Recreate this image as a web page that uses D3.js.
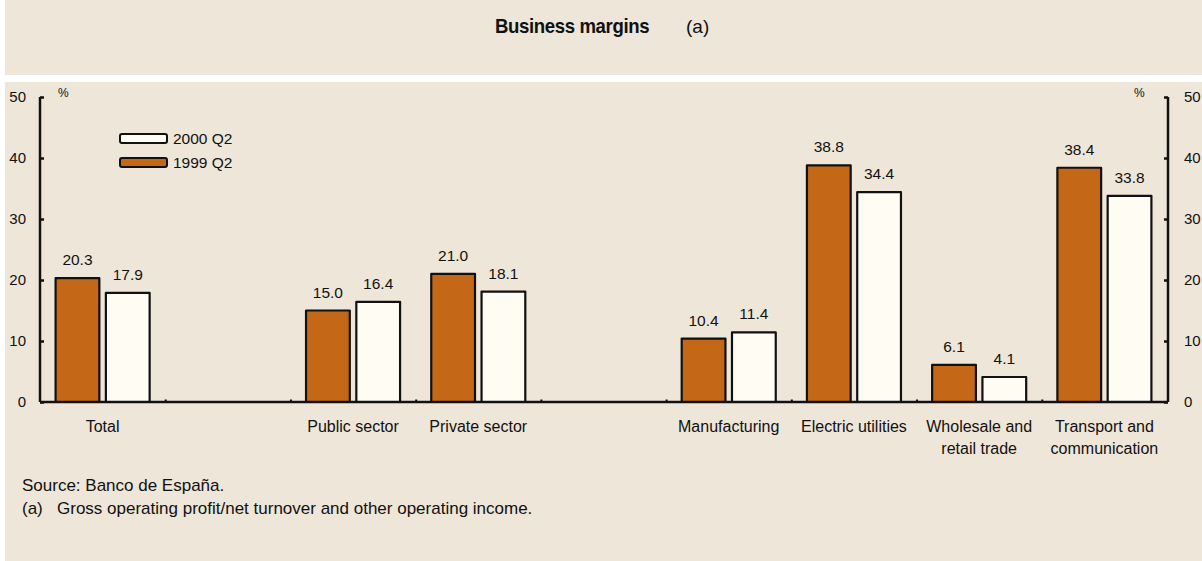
<!DOCTYPE html>
<html>
<head>
<meta charset="utf-8">
<script src="https://cdn.jsdelivr.net/npm/d3@7"></script>
<style>
  html, body { margin: 0; padding: 0; background: #ffffff; }
  svg { display: block; }
  text { font-family: "Liberation Sans", Arial, sans-serif; fill: #111; }
</style>
</head>
<body>
<svg id="chart" width="1202" height="561"></svg>
<script>
// Category slots along the x axis ("" marks an empty spacer slot)
const categories = ["Total", "", "Public sector", "Private sector", " ",
                    "Manufacturing", "Electric utilities", "Wholesale and retail trade",
                    "Transport and communication"];
// Two-line labels as printed under each slot
const categoryLabels = [["Total"], [], ["Public sector"], ["Private sector"], [],
                        ["Manufacturing"], ["Electric utilities"], ["Wholesale and", "retail trade"],
                        ["Transport and", "communication"]];
const series = ["1999 Q2", "2000 Q2"];
const values1999 = [20.3, null, 15.0, 21.0, null, 10.4, 38.8, 6.1, 38.4];
const values2000 = [17.9, null, 16.4, 18.1, null, 11.4, 34.4, 4.1, 33.8];
const yTicks = [0, 10, 20, 30, 40, 50];

const W = 1202, H = 561;
const bg = "#EEE6D8";
const orange = "#C46817";
const pale = "#FFFCF4";

const svg = d3.select("#chart");

// Panels
svg.append("rect").attr("x", 5).attr("y", 0).attr("width", W - 5).attr("height", 75).attr("fill", bg);
svg.append("rect").attr("x", 5).attr("y", 82).attr("width", W - 5).attr("height", H - 82).attr("fill", bg);

// Title: condensed bold heading plus the note marker
svg.append("text").attr("transform", "translate(495,33) scale(0.93,1)")
  .style("font-weight", "bold").style("font-size", "20px").style("letter-spacing", "-0.4px")
  .text("Business margins");
svg.append("text").attr("x", 686).attr("y", 33).style("font-size", "19px").text("(a)");

// Scales
const x = d3.scaleBand().domain(categories).range([40, 1167]).paddingInner(0).paddingOuter(0);
const xs = d3.scaleBand().domain(series).range([0, x.bandwidth()]).paddingInner(0.13).paddingOuter(0.31);
const y = d3.scaleLinear().domain([0, 50]).range([402, 97]);

const fmt = d3.format(".1f");
const rows = categories.map((c, i) => ({ c, i, v: { "1999 Q2": values1999[i], "2000 Q2": values2000[i] } }));

// Bars
const groups = svg.append("g").selectAll("g").data(rows.filter(r => r.v["1999 Q2"] != null))
  .join("g").attr("transform", d => `translate(${x(d.c)},0)`);

groups.selectAll("rect").data(d => series.map(s => ({ s, v: d.v[s] })))
  .join("rect")
  .attr("x", d => xs(d.s))
  .attr("y", d => y(d.v))
  .attr("width", xs.bandwidth())
  .attr("height", d => y(0) - y(d.v))
  .attr("fill", d => d.s === "1999 Q2" ? orange : pale)
  .attr("stroke", "#111").attr("stroke-width", 2.2).attr("stroke-linejoin", "round");

groups.selectAll("text.val").data(d => series.map(s => ({ s, v: d.v[s] })))
  .join("text").attr("class", "val")
  .attr("x", d => xs(d.s) + xs.bandwidth() / 2)
  .attr("y", d => y(d.v) - 13)
  .attr("text-anchor", "middle").style("font-size", "15.5px")
  .text(d => fmt(d.v));

// Y axes (ticks pointing inward)
const yLeft = d3.axisLeft(y).tickValues(yTicks).tickSize(-4).tickPadding(14).tickFormat(d3.format("d"));
const yRight = d3.axisRight(y).tickValues(yTicks).tickSize(-4).tickPadding(16).tickFormat(d3.format("d"));

function styleAxis(g) {
  g.select(".domain").attr("stroke", "#111").attr("stroke-width", 2.5);
  g.selectAll(".tick line").attr("stroke", "#111").attr("stroke-width", 2.5);
  g.selectAll(".tick text").style("font-size", "15px").attr("fill", "#111")
    .style("font-family", "'Liberation Sans', Arial, sans-serif");
}
svg.append("g").attr("transform", "translate(40,0)").call(yLeft).call(g => g.select(".domain").attr("d", "M0,97V402")).call(styleAxis);
svg.append("g").attr("transform", "translate(1168,0)").call(yRight).call(g => g.select(".domain").attr("d", "M0,97V402")).call(styleAxis);

// X axis baseline with small marks at slot boundaries
const boundaries = categories.slice(1).map(c => x(c));
const xAxis = d3.axisBottom(d3.scaleLinear().domain([40, 1167]).range([40, 1167]))
  .tickValues(boundaries).tickSize(-2.5).tickFormat("");
svg.append("g").attr("transform", `translate(0,${y(0)})`).call(xAxis)
  .call(g => g.select(".domain").attr("d", "M40,0H1168").attr("stroke", "#111").attr("stroke-width", 2.5))
  .call(g => g.selectAll(".tick line").attr("stroke", "#111").attr("stroke-width", 2));

// Category labels
const lab = svg.append("g").selectAll("text").data(categoryLabels.map((l, i) => ({ l, c: categories[i] })))
  .join("text")
  .attr("text-anchor", "middle")
  .style("font-size", "16px");
lab.selectAll("tspan").data(d => d.l.map((t, k) => ({ t, k, c: d.c })))
  .join("tspan")
  .attr("x", d => x(d.c) + x.bandwidth() / 2)
  .attr("y", d => 432 + d.k * 22)
  .text(d => d.t);

// Percent units
svg.append("text").attr("x", 58).attr("y", 97).style("font-size", "12px").text("%");
svg.append("text").attr("x", 1134).attr("y", 97).style("font-size", "12px").text("%");

// Legend
const legendItems = [{ s: "2000 Q2", fill: pale }, { s: "1999 Q2", fill: orange }];
const leg = svg.append("g").selectAll("g").data(legendItems).join("g")
  .attr("transform", (d, i) => `translate(120,${134 + i * 24})`);
leg.append("rect").attr("width", 47).attr("height", 9).attr("rx", 2)
  .attr("fill", d => d.fill).attr("stroke", "#111").attr("stroke-width", 2);
leg.append("text").attr("x", 53).attr("y", 10).style("font-size", "15.5px").text(d => d.s);

// Footnotes
svg.append("text").attr("x", 22).attr("y", 491).style("font-size", "17px").text("Source: Banco de España.");
const fn = svg.append("text").attr("y", 514).style("font-size", "17px");
fn.append("tspan").attr("x", 22).text("(a)");
fn.append("tspan").attr("x", 57).text("Gross operating profit/net turnover and other operating income.");
</script>
</body>
</html>
